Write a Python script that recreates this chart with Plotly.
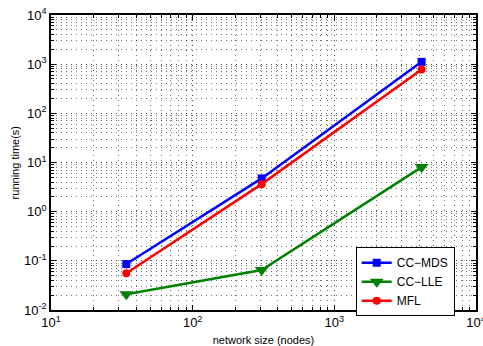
import plotly.graph_objects as go

network_size = [34, 307, 4130]
cc_mds = [0.086, 4.75, 1114]
cc_lle = [0.021, 0.065, 8.07]
mfl = [0.056, 3.63, 780]

x_decades = [1, 2, 3, 4]
y_decades = [-2, -1, 0, 1, 2, 3, 4]

def minor_vals(decs):
    vals = []
    for d in decs[:-1]:
        for m in range(2, 10):
            vals.append(m * 10.0 ** d)
    return vals

font_family = "Liberation Sans, Arial, sans-serif"
grid_dash = "1px,4px"

fig = go.Figure()
fig.add_trace(go.Scatter(x=network_size, y=cc_mds, name="CC\u2212MDS", mode="lines+markers",
                         line=dict(color="#0000ff", width=2.5),
                         marker=dict(symbol="square", size=8, color="#0000ff")))
fig.add_trace(go.Scatter(x=network_size, y=cc_lle, name="CC\u2212LLE", mode="lines+markers",
                         line=dict(color="#008000", width=2.5),
                         marker=dict(symbol="triangle-down", size=12, color="#008000")))
fig.add_trace(go.Scatter(x=network_size, y=mfl, name="MFL", mode="lines+markers",
                         line=dict(color="#ff0000", width=2.5),
                         marker=dict(symbol="circle", size=8, color="#ff0000")))

axis_common = dict(
    type="log", showline=True, linecolor="black", linewidth=1.5, mirror="allticks",
    ticks="inside", ticklen=5, tickcolor="black", showgrid=True,
    gridcolor="rgba(0,0,0,0.7)", griddash=grid_dash, gridwidth=1, zeroline=False,
    tickfont=dict(family=font_family, size=13, color="black"),
    ticklabeloverflow="allow", automargin=False,
)

fig.update_xaxes(
    **axis_common,
    range=[1, 4],
    tickmode="array",
    tickvals=[10.0 ** d for d in x_decades],
    ticktext=["10<sup>%d</sup>" % d for d in x_decades],
    minor=dict(tickmode="array", tickvals=minor_vals(x_decades), ticks="inside", ticklen=3,
               tickcolor="black", showgrid=True, gridcolor="rgba(0,0,0,0.55)", griddash=grid_dash, gridwidth=1),
    title=dict(text="network size (nodes)", font=dict(family=font_family, size=11, color="black")),
)
fig.update_yaxes(
    **axis_common,
    range=[-2, 4],
    tickmode="array",
    tickvals=[10.0 ** d for d in y_decades],
    ticktext=["10<sup>%d</sup>" % d for d in y_decades],
    minor=dict(tickmode="array", tickvals=minor_vals(y_decades), ticks="inside", ticklen=3,
               tickcolor="black", showgrid=True, gridcolor="rgba(0,0,0,0.55)", griddash=grid_dash, gridwidth=1),
)

fig.add_annotation(text="running time(s)", xref="paper", yref="paper", x=-0.085, y=0.5,
                   xanchor="center", yanchor="middle", textangle=-90, showarrow=False,
                   font=dict(family=font_family, size=11, color="black"))

fig.update_layout(
    width=483, height=346,
    margin=dict(l=51, r=7, t=15, b=36),
    paper_bgcolor="white", plot_bgcolor="white",
    font=dict(family=font_family, color="black"),
    legend=dict(x=0.717, y=0.213, xanchor="left", yanchor="top",
                bgcolor="white", bordercolor="black", borderwidth=1,
                font=dict(family=font_family, size=12, color="black"),
                tracegroupgap=0, itemwidth=30),
    showlegend=True,
)

fig.write_html("out.html")
